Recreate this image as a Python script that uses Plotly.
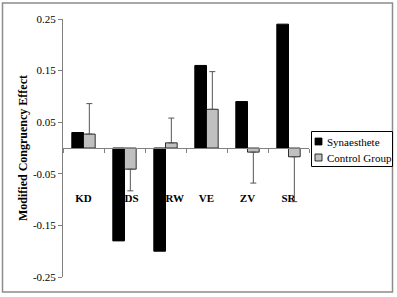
import plotly.graph_objects as go

categories = ["KD", "DS", "RW", "VE", "ZV", "SR"]
series_names = ["Synaesthete", "Control Group"]
synaesthete = [0.030, -0.180, -0.200, 0.160, 0.090, 0.240]
control = [0.027, -0.041, 0.010, 0.075, -0.008, -0.017]
control_err = [0.059, 0.042, 0.048, 0.073, 0.060, 0.087]
y_tickvals = [-0.25, -0.15, -0.05, 0.05, 0.15, 0.25]
y_ticktext = ["-0.25", "-0.15", "-0.05", "0.05", "0.15", "0.25"]
label_level = -0.1

err_plus = [e if v >= 0 else 0 for v, e in zip(control, control_err)]
err_minus = [e if v < 0 else 0 for v, e in zip(control, control_err)]

FONT = "Liberation Serif"
W, H = 397, 297
ML, MR, MT, MB = 63, 88, 19, 20
PW, PH = W - ML - MR, H - MT - MB
BLACK, GRAY, AXIS = "#000000", "#c0c0c0", "#808080"


def px_x(x):
    return (x - ML) / PW


def px_y(y):
    return (H - MB - y) / PH


label_pos = ["middle center", "middle right", "middle right",
             "middle center", "middle center", "middle center"]

fig = go.Figure()
# category labels, on the bottom subplot so the bars cover them
fig.add_trace(go.Scatter(
    x=categories, y=[label_level] * len(categories), mode="text",
    text=categories, textposition=label_pos, marker=dict(size=1),
    textfont=dict(family=FONT, size=11, color=BLACK, weight="bold"),
    hoverinfo="skip", showlegend=False, xaxis="x", yaxis="y",
))
fig.add_trace(go.Bar(
    x=categories, y=synaesthete, name=series_names[0],
    marker=dict(color=BLACK, line=dict(color=BLACK, width=1)),
    xaxis="x2", yaxis="y2", showlegend=False,
))
fig.add_trace(go.Bar(
    x=categories, y=control, name=series_names[1],
    marker=dict(color=GRAY, line=dict(color=BLACK, width=0.8)),
    error_y=dict(type="data", symmetric=False, array=err_plus,
                 arrayminus=err_minus, color="#555555", thickness=1, width=3),
    xaxis="x2", yaxis="y2", showlegend=False,
))

shapes = [
    # chart frame
    dict(type="rect", xref="paper", yref="paper",
         x0=px_x(2.5), x1=px_x(392.5), y0=px_y(292), y1=px_y(3),
         line=dict(color="#8c8c8c", width=1.5), layer="below"),
    # legend box
    dict(type="rect", xref="paper", yref="paper",
         x0=px_x(311.5), x1=px_x(392.5), y0=px_y(166.5), y1=px_y(131.5),
         line=dict(color=BLACK, width=1), fillcolor="white", layer="above"),
]
annotations = []
for i, (name, fill) in enumerate(zip(series_names, [BLACK, GRAY])):
    cy = 141.5 + i * 16
    shapes.append(dict(type="rect", xref="paper", yref="paper",
                       x0=px_x(315), x1=px_x(322), y0=px_y(cy + 3.5),
                       y1=px_y(cy - 3.5), fillcolor=fill,
                       line=dict(color=BLACK, width=0.8), layer="above"))
    annotations.append(dict(text=name, xref="paper", yref="paper",
                            x=px_x(325), y=px_y(cy), xanchor="left",
                            yanchor="middle", showarrow=False,
                            font=dict(family=FONT, size=11, color=BLACK)))

fig.update_layout(
    width=W, height=H,
    margin=dict(l=ML, r=MR, t=MT, b=MB),
    paper_bgcolor="white", plot_bgcolor="white",
    font=dict(family=FONT, size=11, color=BLACK),
    barmode="group", bargap=0.43, bargroupgap=0,
    showlegend=False,
    xaxis=dict(type="category", categoryorder="array", categoryarray=categories,
               anchor="free", position=0.5, range=[-0.5, 5.5],
               showline=True, linecolor=AXIS, linewidth=1,
               ticks="outside", ticklen=4, tickcolor=AXIS,
               tickson="boundaries", showticklabels=False,
               showgrid=False, zeroline=False),
    xaxis2=dict(type="category", categoryorder="array", categoryarray=categories,
                overlaying="x", matches="x", range=[-0.5, 5.5], visible=False),
    yaxis=dict(range=[-0.25, 0.25], tickmode="array", tickvals=y_tickvals,
               ticktext=y_ticktext, ticks="outside", ticklen=4,
               tickcolor=AXIS, showline=True, linecolor=AXIS,
               linewidth=1, showgrid=False, zeroline=False,
               tickfont=dict(family=FONT, size=11, color=BLACK),
               title=dict(text="Modified Congruency Effect", standoff=2,
                          font=dict(family=FONT, size=12, color=BLACK,
                                    weight="bold"))),
    yaxis2=dict(overlaying="y", matches="y", anchor="x2", range=[-0.25, 0.25],
                visible=False),
    shapes=shapes,
    annotations=annotations,
)

fig.write_html("out.html")
